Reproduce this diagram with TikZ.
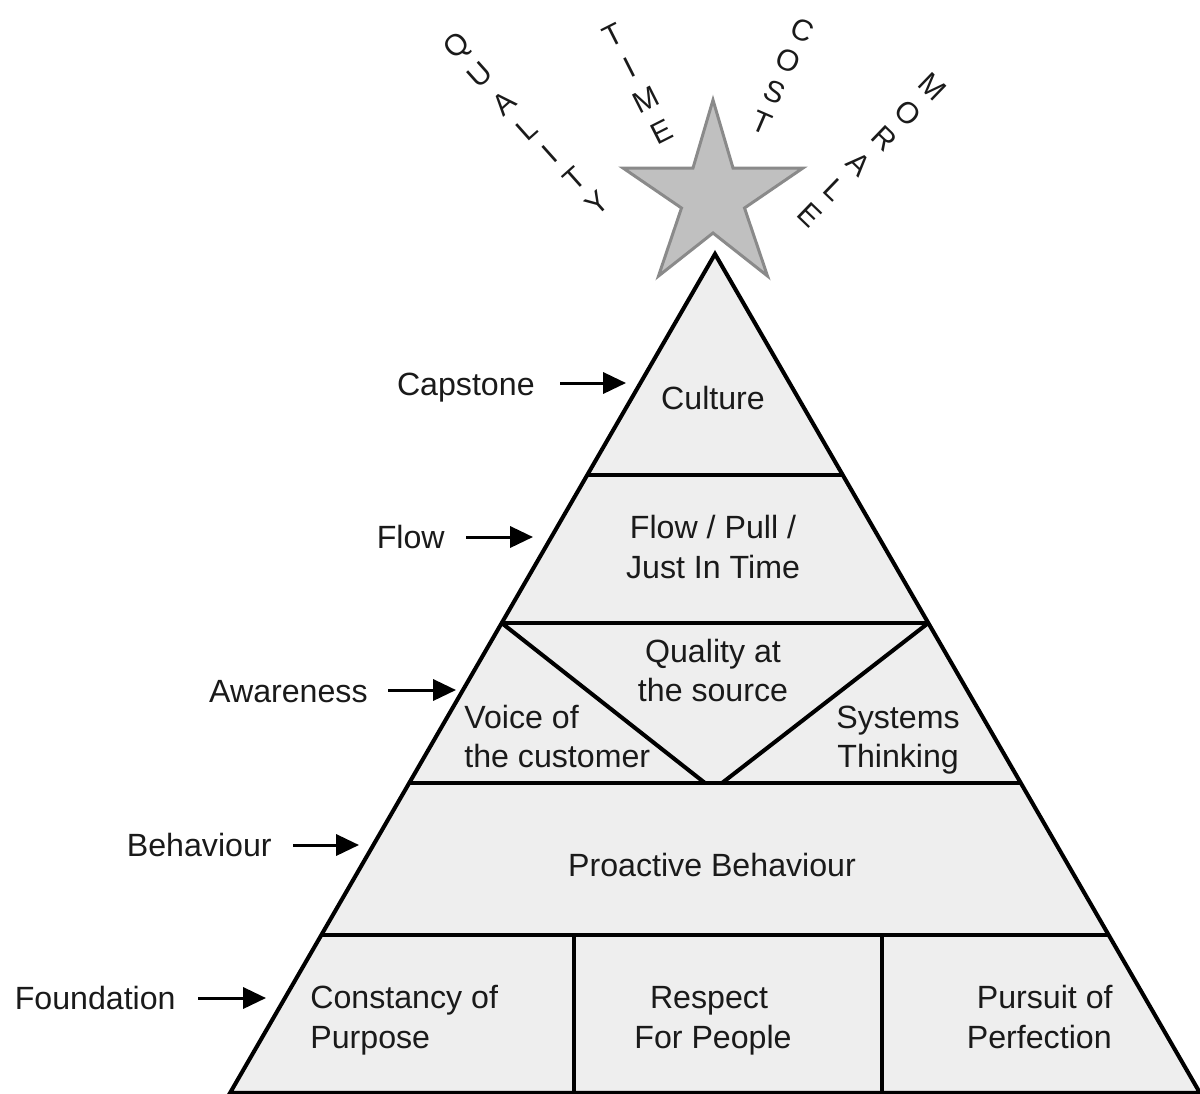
\documentclass[tikz,border=0pt]{standalone}
\usepackage{fontspec}
\setmainfont{Liberation Sans}
\usetikzlibrary{arrows.meta}
\definecolor{pyrfill}{HTML}{EEEEEE}
\definecolor{starfill}{HTML}{C0C0C0}
\definecolor{starline}{HTML}{8A8A8A}
\definecolor{ink}{HTML}{1A1A1A}
\begin{document}
\begin{tikzpicture}[x=0.02cm,y=-0.02cm,
  txt/.style={font=\fontsize{18.3pt}{22pt}\selectfont, text=ink, inner sep=0pt},
  lettr/.style={font=\fontsize{17pt}{20pt}\selectfont, text=ink, inner sep=0pt},
  edgeline/.style={line width=2.3pt, draw=black},
  arr/.style={line width=1.7pt, draw=black, -{Triangle[length=13pt,width=12pt]}},
  starshape/.style={line width=1.7pt, draw=starline, fill=starfill, line join=miter}]
\useasboundingbox (0,0) rectangle (1200,1093);

% pyramid corners
\coordinate (apex) at (715,254);
\coordinate (bl) at (230,1093);
\coordinate (br) at (1200,1093);
% band ends
\coordinate (c1l) at (587.3,475); \coordinate (c1r) at (842.7,475);
\coordinate (c2l) at (501.7,623); \coordinate (c2r) at (928.3,623);
\coordinate (c3l) at (409.2,783); \coordinate (c3r) at (1020.8,783);
\coordinate (c4l) at (321.4,935); \coordinate (c4r) at (1108.6,935);
\coordinate (vl) at (705,783); \coordinate (vr) at (722,783);
\coordinate (d1t) at (574,935); \coordinate (d1b) at (574,1093);
\coordinate (d2t) at (882,935); \coordinate (d2b) at (882,1093);

\draw[edgeline, fill=pyrfill, line join=miter] (apex) -- (bl) -- (br) -- cycle;
\draw[edgeline] (c1l) -- (c1r);
\draw[edgeline] (c2l) -- (c2r);
\draw[edgeline] (c3l) -- (c3r);
\draw[edgeline] (c4l) -- (c4r);
\draw[edgeline] (c2l) -- (vl);
\draw[edgeline] (c2r) -- (vr);
\draw[edgeline] (d1t) -- (d1b);
\draw[edgeline] (d2t) -- (d2b);

% star
\draw[starshape] (713,100) -- (733,168) -- (803,168) -- (744.5,208) -- (767.5,276)
  -- (713,233) -- (658.5,276) -- (681.5,208) -- (623,168) -- (693,168) -- cycle;

% texts in the pyramid
\node[txt, anchor=base] (culture) at (713,409) {Culture};
\node[txt, anchor=base] (flowa) at (713,538) {Flow / Pull /};
\node[txt, anchor=base] (flowb) at (713,578) {Just In Time};
\node[txt, anchor=base] (qsa) at (713,662) {Quality at};
\node[txt, anchor=base] (qsb) at (713,701) {the source};
\node[txt, anchor=base west] (voca) at (464,728) {Voice of};
\node[txt, anchor=base west] (vocb) at (464,767) {the customer};
\node[txt, anchor=base west] (sysa) at (836,728) {Systems};
\node[txt, anchor=base west] (sysb) at (837,767) {Thinking};
\node[txt, anchor=base] (proact) at (712,876) {Proactive Behaviour};
\node[txt, anchor=base west] (cona) at (310,1008) {Constancy of};
\node[txt, anchor=base west] (conb) at (310,1048) {Purpose};
\node[txt, anchor=base] (resa) at (709,1008) {Respect};
\node[txt, anchor=base] (resb) at (713,1048) {For People};
\node[txt, anchor=base east] (pura) at (1113,1008) {Pursuit of};
\node[txt, anchor=base east] (purb) at (1112,1048) {Perfection};

% side labels
\node[txt, anchor=base east] (lcap) at (535,395) {Capstone};
\node[txt, anchor=base east] (lflow) at (445,548) {Flow};
\node[txt, anchor=base east] (lawa) at (368,702) {Awareness};
\node[txt, anchor=base east] (lbeh) at (272,856) {Behaviour};
\node[txt, anchor=base east] (lfou) at (176,1009) {Foundation};

\coordinate (a1s) at (560,383); \coordinate (a1e) at (626,383);
\coordinate (a2s) at (466,537); \coordinate (a2e) at (533,537);
\coordinate (a3s) at (388,690); \coordinate (a3e) at (456,690);
\coordinate (a4s) at (293,845); \coordinate (a4e) at (359,845);
\coordinate (a5s) at (198,998); \coordinate (a5e) at (266,998);
\draw[arr] (a1s) -- (a1e);
\draw[arr] (a2s) -- (a2e);
\draw[arr] (a3s) -- (a3e);
\draw[arr] (a4s) -- (a4e);
\draw[arr] (a5s) -- (a5e);

% rotated letters
\foreach \c/\x/\y [count=\i] in {Q/458/47, U/480/75, A/504/103, L/527/129, I/550/154, T/574/179, Y/597/203}
  \node[lettr, rotate=41.7] (qual\i) at (\x,\y) {\c};
\foreach \c/\x/\y [count=\i] in {T/613/35, I/630/67, M/646/100, E/662/132}
  \node[lettr, rotate=26.8] (time\i) at (\x,\y) {\c};
\foreach \c/\x/\y [count=\i] in {C/802/30, O/788/61, S/775/92, T/762/123}
  \node[lettr, rotate=-23.3] (cost\i) at (\x,\y) {\c};
\foreach \c/\x/\y [count=\i] in {M/933/87, O/908/113, R/884/139, A/859/164, L/835/190, E/810/215}
  \node[lettr, rotate=-43.9] (mor\i) at (\x,\y) {\c};
\end{tikzpicture}
\end{document}
